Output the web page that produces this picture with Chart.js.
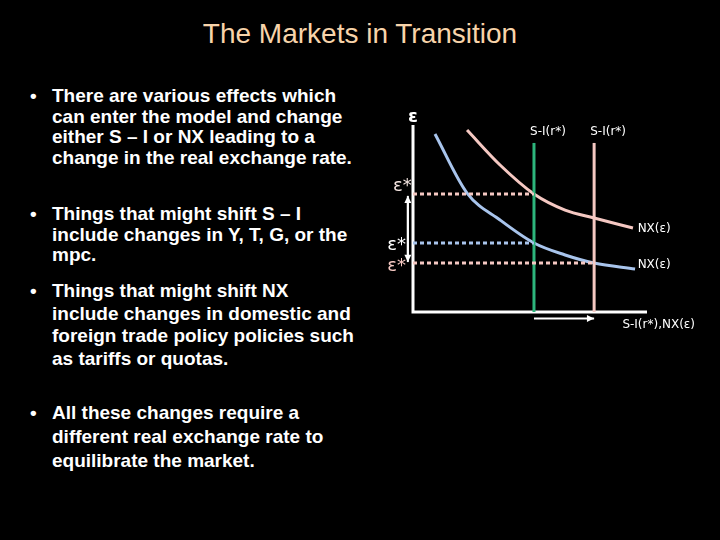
<!DOCTYPE html>
<html><head><meta charset="utf-8">
<script src="https://cdn.jsdelivr.net/npm/chart.js@4"></script>
<style>
body{margin:0;background:#000;width:720px;height:540px;overflow:hidden;font-family:"Liberation Sans",Arial,sans-serif;}
#title{position:absolute;top:18px;left:0;width:720px;text-align:center;color:#f8d4aa;font-size:28px;}
ul{position:absolute;left:30px;top:86px;width:328px;margin:0;padding:0;list-style:none;color:#fff;font-weight:bold;font-size:19px;line-height:20.6px;}
li{position:absolute;left:0;width:328px;padding-left:22px;box-sizing:border-box;}
li:before{content:"•";position:absolute;left:0;}
#wrap{position:absolute;left:370px;top:100px;width:350px;height:240px;}
</style></head><body>
<div id="title">The Markets in Transition</div>
<ul>
<li style="top:0">There are various effects which can enter the model and change either S – I or NX leading to a change in the real exchange rate.</li>
<li style="top:118px">Things that might shift S – I include changes in Y, T, G, or the mpc.</li>
<li style="top:194px;line-height:22.5px">Things that might shift NX include changes in domestic and foreign trade policy policies such as tariffs or quotas.</li>
<li style="top:315px;line-height:24px">All these changes require a different real exchange rate to equilibrate the market.</li>
</ul>
<div id="wrap"><canvas id="c"></canvas></div>
<script>
const pinkNX = [[2.31,9.73],[3.72,7.86],[5.17,6.31],[6.5,5.45],[7.74,5.03],[9.4,4.49]];
const blueNX = [[0.94,9.52],[2.31,6.36],[3.72,4.92],[5.17,3.69],[6.5,3.05],[7.74,2.62],[9.49,2.30]];
const siOld = 5.17, siNew = 7.74, siTop = 9.04;
const epsHigh = 6.31, epsMid = 3.69, epsLow = 2.62;
const PINK = '#f5c8c2', BLUE = '#a8c4ec', GREEN = '#2db57c';

const pts = a => a.map(p => ({x: p[0], y: p[1]}));
const line = (data, color, extra = {}) => ({data, borderColor: color, borderWidth: 3, pointRadius: 0, fill: false, clip: false, ...extra});

const labels = {
  id: 'labels',
  afterDatasetsDraw(chart) {
    const {ctx, scales: {x, y}} = chart;
    ctx.save();
    const arrow = (x1, y1, x2, y2) => {
      ctx.strokeStyle = '#fff'; ctx.fillStyle = '#fff'; ctx.lineWidth = 2;
      ctx.beginPath(); ctx.moveTo(x1, y1); ctx.lineTo(x2, y2); ctx.stroke();
      const a = Math.atan2(y2 - y1, x2 - x1);
      ctx.beginPath(); ctx.moveTo(x2, y2);
      ctx.lineTo(x2 - 8 * Math.cos(a - 0.45), y2 - 8 * Math.sin(a - 0.45));
      ctx.lineTo(x2 - 8 * Math.cos(a + 0.45), y2 - 8 * Math.sin(a + 0.45));
      ctx.fill();
    };
    const ax = x.getPixelForValue(-0.22);
    arrow(ax, y.getPixelForValue(epsLow + 0.4), ax, y.getPixelForValue(epsHigh - 0.1));
    arrow(ax, y.getPixelForValue(epsHigh - 0.4), ax, y.getPixelForValue(epsLow + 0.05));
    const ay = y.getPixelForValue(-0.35);
    arrow(x.getPixelForValue(siOld), ay, x.getPixelForValue(siNew), ay);
    ctx.textBaseline = 'middle';
    ctx.font = '12px "DejaVu Sans", sans-serif';
    ctx.fillStyle = '#fff'; ctx.textAlign = 'center';
    ctx.fillText('S-I(r*)', x.getPixelForValue(siOld) + 14, y.getPixelForValue(siTop) - 11);
    ctx.fillText('S-I(r*)', x.getPixelForValue(siNew) + 14, y.getPixelForValue(siTop) - 11);
    ctx.fillText('S-I(r*),NX(ε)', x.getPixelForValue(10.5), y.getPixelForValue(-0.7));
    ctx.textAlign = 'left';
    ctx.fillText('NX(ε)', x.getPixelForValue(9.6), y.getPixelForValue(4.49) + 1);
    ctx.fillText('NX(ε)', x.getPixelForValue(9.6), y.getPixelForValue(2.3) - 4);
    ctx.font = 'bold 18px "DejaVu Sans", sans-serif';
    ctx.textAlign = 'center';
    ctx.fillText('ε', x.getPixelForValue(0), y.getPixelForValue(10.4));
    ctx.font = '18px "DejaVu Sans", sans-serif';
    ctx.textAlign = 'right';
    ctx.fillStyle = '#f3e4e0';
    ctx.fillText('ε*', x.getPixelForValue(-0.05), y.getPixelForValue(epsHigh + 0.4));
    ctx.fillStyle = '#fff';
    ctx.fillText('ε*', x.getPixelForValue(-0.3), y.getPixelForValue(epsMid - 0.1));
    ctx.fillStyle = PINK;
    ctx.fillText('ε*', x.getPixelForValue(-0.3), y.getPixelForValue(epsLow - 0.2));
    ctx.restore();
  }
};

new Chart(document.getElementById('c'), {
  type: 'scatter',
  data: {datasets: [
    line([{x: 0, y: epsHigh}, {x: siOld, y: epsHigh}], PINK, {borderDash: [4, 3]}),
    line([{x: 0, y: epsMid}, {x: siOld, y: epsMid}], BLUE, {borderDash: [4, 3]}),
    line([{x: 0, y: epsLow}, {x: siNew, y: epsLow}], PINK, {borderDash: [4, 3]}),
    line([{x: siOld, y: 0}, {x: siOld, y: siTop}], GREEN),
    line([{x: siNew, y: 0}, {x: siNew, y: siTop}], PINK),
    line(pts(pinkNX), PINK, {cubicInterpolationMode: 'monotone'}),
    line(pts(blueNX), BLUE, {cubicInterpolationMode: 'monotone'}),
    line([{x: 0, y: 10}, {x: 0, y: 0}, {x: 10, y: 0}], '#fff')
  ].map(d => ({...d, showLine: true}))},
  options: {
    responsive: true, maintainAspectRatio: false, animation: false,
    layout: {padding: {left: 43, right: 73, top: 25, bottom: 28}},
    scales: {x: {type: 'linear', min: 0, max: 10, display: false}, y: {min: 0, max: 10, display: false}},
    plugins: {legend: {display: false}, tooltip: {enabled: false}}
  },
  plugins: [labels]
});
</script>
</body></html>
